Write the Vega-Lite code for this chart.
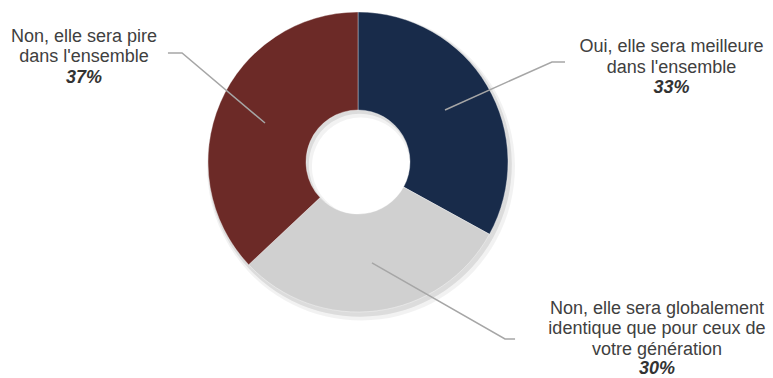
{
  "$schema": "https://vega.github.io/schema/vega-lite/v6.json",
  "width": 773,
  "height": 378,
  "autosize": {"type": "none"},
  "padding": 0,
  "background": "#ffffff",
  "config": {"view": {"stroke": null}},
  "datasets": {
    "shares": [
      {"reponse": "Oui, elle sera meilleure dans l'ensemble", "ordre": 1, "pct": 33},
      {"reponse": "Non, elle sera globalement identique que pour ceux de votre génération", "ordre": 2, "pct": 30},
      {"reponse": "Non, elle sera pire dans l'ensemble", "ordre": 3, "pct": 37}
    ],
    "labels": [
      {"reponse": "Oui, elle sera meilleure dans l'ensemble", "lignes": 2, "texte": "Oui, elle sera meilleure\ndans l'ensemble", "pourcentage": "33%", "lx": 2.09, "ly": 0.733},
      {"reponse": "Non, elle sera globalement identique que pour ceux de votre génération", "lignes": 3, "texte": "Non, elle sera globalement\nidentique que pour ceux de\nvotre génération", "pourcentage": "30%", "lx": 1.993, "ly": -1.01},
      {"reponse": "Non, elle sera pire dans l'ensemble", "lignes": 2, "texte": "Non, elle sera pire\ndans l'ensemble", "pourcentage": "37%", "lx": -1.827, "ly": 0.803}
    ],
    "leaders": [
      {"reponse": "Oui", "pt": 1, "lx": 0.58, "ly": 0.347},
      {"reponse": "Oui", "pt": 2, "lx": 1.293, "ly": 0.667},
      {"reponse": "Oui", "pt": 3, "lx": 1.38, "ly": 0.667},
      {"reponse": "Identique", "pt": 1, "lx": 0.093, "ly": -0.673},
      {"reponse": "Identique", "pt": 2, "lx": 0.98, "ly": -1.18},
      {"reponse": "Identique", "pt": 3, "lx": 1.047, "ly": -1.18},
      {"reponse": "Pire", "pt": 1, "lx": -0.62, "ly": 0.26},
      {"reponse": "Pire", "pt": 2, "lx": -1.173, "ly": 0.727},
      {"reponse": "Pire", "pt": 3, "lx": -1.267, "ly": 0.727}
    ]
  },
  "resolve": {"scale": {"x": "shared", "y": "shared"}},
  "layer": [
    {
      "data": {"name": "shares"},
      "mark": {"type": "arc", "outerRadius": 154, "innerRadius": 49, "color": "#000000", "opacity": 0.05},
      "encoding": {
        "theta": {"field": "pct", "type": "quantitative", "stack": true},
        "x": {"datum": 0.02, "type": "quantitative", "scale": {"domain": [-2.3867, 2.7667], "nice": false, "zero": false}, "axis": null},
        "y": {"datum": -0.03, "type": "quantitative", "scale": {"domain": [-1.44, 1.08], "nice": false, "zero": false}, "axis": null}
      }
    },
    {
      "data": {"name": "shares"},
      "mark": {"type": "arc", "outerRadius": 152, "innerRadius": 51, "color": "#000000", "opacity": 0.09},
      "encoding": {
        "theta": {"field": "pct", "type": "quantitative", "stack": true},
        "x": {"datum": 0.012, "type": "quantitative"},
        "y": {"datum": -0.018, "type": "quantitative"}
      }
    },
    {
      "data": {"name": "shares"},
      "mark": {"type": "arc", "outerRadius": 150, "innerRadius": 52, "stroke": "#ffffff", "strokeWidth": 0.6, "strokeOpacity": 0.6},
      "encoding": {
        "theta": {"field": "pct", "type": "quantitative", "stack": true},
        "order": {"field": "ordre", "type": "quantitative"},
        "color": {
          "field": "reponse",
          "type": "nominal",
          "scale": {
            "domain": ["Oui, elle sera meilleure dans l'ensemble", "Non, elle sera globalement identique que pour ceux de votre génération", "Non, elle sera pire dans l'ensemble"],
            "range": ["#182B4A", "#D0D0D0", "#6C2A27"]
          },
          "legend": null
        },
        "x": {"datum": 0, "type": "quantitative"},
        "y": {"datum": 0, "type": "quantitative"}
      }
    },
    {
      "data": {"name": "leaders"},
      "mark": {"type": "line", "color": "#A6A6A6", "strokeWidth": 1.5},
      "encoding": {
        "x": {"field": "lx", "type": "quantitative"},
        "y": {"field": "ly", "type": "quantitative"},
        "detail": {"field": "reponse", "type": "nominal"},
        "order": {"field": "pt", "type": "quantitative"}
      }
    },
    {
      "data": {"name": "labels"},
      "mark": {"type": "text", "font": "Liberation Sans", "fontSize": 18, "lineHeight": 20.7, "lineBreak": "\n", "align": "center", "baseline": "alphabetic", "color": "#404040"},
      "encoding": {
        "x": {"field": "lx", "type": "quantitative"},
        "y": {"field": "ly", "type": "quantitative"},
        "text": {"field": "texte", "type": "nominal"}
      }
    },
    {
      "data": {"name": "labels"},
      "transform": [{"filter": "datum.lignes == 2"}],
      "mark": {"type": "text", "font": "Liberation Sans", "fontSize": 18, "fontWeight": "bold", "fontStyle": "italic", "align": "center", "baseline": "alphabetic", "dy": 41, "color": "#333333"},
      "encoding": {
        "x": {"field": "lx", "type": "quantitative"},
        "y": {"field": "ly", "type": "quantitative"},
        "text": {"field": "pourcentage", "type": "nominal"}
      }
    },
    {
      "data": {"name": "labels"},
      "transform": [{"filter": "datum.lignes == 3"}],
      "mark": {"type": "text", "font": "Liberation Sans", "fontSize": 18, "fontWeight": "bold", "fontStyle": "italic", "align": "center", "baseline": "alphabetic", "dy": 60, "color": "#333333"},
      "encoding": {
        "x": {"field": "lx", "type": "quantitative"},
        "y": {"field": "ly", "type": "quantitative"},
        "text": {"field": "pourcentage", "type": "nominal"}
      }
    }
  ]
}
